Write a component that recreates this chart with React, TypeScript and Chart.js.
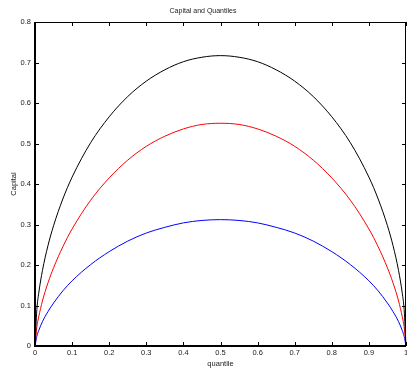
import React, { useEffect, useRef } from 'react';
import { Chart, registerables } from 'chart.js';

Chart.register(...registerables);

const chartTitle = 'Capital and Quantiles';
const xAxisTitle = 'quantile';
const yAxisTitle = 'Capital';

const quantiles = [
  0, 0.005, 0.01, 0.02, 0.035, 0.05, 0.075, 0.1, 0.15, 0.2, 0.25, 0.3, 0.35, 0.4, 0.45, 0.5,
  0.55, 0.6, 0.65, 0.7, 0.75, 0.8, 0.85, 0.9, 0.925, 0.95, 0.965, 0.98, 0.99, 0.995, 1,
];

const capitalBlack = [
  0, 0.09, 0.13, 0.186, 0.248, 0.297, 0.363, 0.417, 0.502, 0.566, 0.616, 0.654, 0.682, 0.702, 0.713, 0.717,
  0.713, 0.702, 0.682, 0.654, 0.616, 0.566, 0.502, 0.417, 0.363, 0.297, 0.248, 0.186, 0.13, 0.09, 0,
];

const capitalRed = [
  0, 0.047, 0.072, 0.111, 0.156, 0.193, 0.245, 0.289, 0.36, 0.415, 0.459, 0.493, 0.518, 0.536, 0.547, 0.55,
  0.547, 0.536, 0.518, 0.493, 0.459, 0.415, 0.36, 0.289, 0.245, 0.193, 0.156, 0.111, 0.072, 0.047, 0,
];

const capitalBlue = [
  0, 0.024, 0.038, 0.06, 0.085, 0.106, 0.136, 0.161, 0.201, 0.233, 0.259, 0.279, 0.293, 0.304, 0.31, 0.312,
  0.31, 0.304, 0.293, 0.279, 0.259, 0.233, 0.201, 0.161, 0.136, 0.106, 0.085, 0.06, 0.038, 0.024, 0,
];

const xTicks = [0, 0.1, 0.2, 0.3, 0.4, 0.5, 0.6, 0.7, 0.8, 0.9, 1];
const yTicks = [0, 0.1, 0.2, 0.3, 0.4, 0.5, 0.6, 0.7, 0.8];

const FONT = '"Liberation Sans", Arial, sans-serif';
const TEXT_COLOR = '#222';

const fmt = (v: number) => String(Number(Number(v).toFixed(1)));

const boxPlugin = {
  id: 'matlabBox',
  afterDatasetsDraw(chart: any) {
    const { ctx, chartArea, scales } = chart;
    const { left, right, top, bottom } = chartArea;
    const x = scales.x;
    const y = scales.y;
    ctx.save();
    ctx.strokeStyle = '#000';
    ctx.lineWidth = 1;
    const line = (x1: number, y1: number, x2: number, y2: number) => {
      ctx.beginPath();
      ctx.moveTo(x1, y1);
      ctx.lineTo(x2, y2);
      ctx.stroke();
    };
    const tl = 4;
    xTicks.forEach((v) => {
      const px = Math.round(x.getPixelForValue(v)) + 0.5;
      line(px, bottom, px, bottom - tl);
      line(px, top, px, top + tl);
    });
    yTicks.forEach((v) => {
      const py = Math.round(y.getPixelForValue(v)) + 0.5;
      line(left, py, left + tl, py);
      line(right, py, right - tl, py);
    });
    line(left, Math.round(top) + 0.5, right, Math.round(top) + 0.5);
    line(Math.round(right) - 0.5, top, Math.round(right) - 0.5, bottom);
    ctx.lineWidth = 2;
    line(left - 1, Math.round(bottom), right, Math.round(bottom));
    line(Math.round(left), top, Math.round(left), bottom + 1);
    ctx.restore();
  },
};

export default function App() {
  const canvasRef = useRef<HTMLCanvasElement | null>(null);

  useEffect(() => {
    const canvas = canvasRef.current;
    if (!canvas) return;
    const mk = (vals: number[]) => quantiles.map((q, i) => ({ x: q, y: vals[i] }));
    const ds = (label: string, vals: number[], color: string) =>
      ({
        label,
        data: mk(vals),
        borderColor: color,
        borderWidth: 1,
        pointRadius: 0,
        cubicInterpolationMode: 'monotone',
        fill: false,
        clip: false,
      } as any);
    const chart = new Chart(canvas, {
      type: 'line',
      data: {
        datasets: [
          ds('black', capitalBlack, '#000000'),
          ds('red', capitalRed, '#ff0000'),
          ds('blue', capitalBlue, '#0000ff'),
        ],
      },
      options: {
        responsive: false,
        animation: false,
        devicePixelRatio: 1,
        layout: { padding: { left: 0, right: 1, top: 0, bottom: 0 } },
        plugins: {
          legend: { display: false },
          tooltip: { enabled: false },
          title: {
            display: true,
            text: chartTitle,
            color: TEXT_COLOR,
            font: { family: FONT, size: 7, weight: 'normal' as any },
            padding: { top: 7, bottom: 6.6 },
          },
        },
        scales: {
          x: {
            type: 'linear',
            min: 0,
            max: 1,
            grid: { display: false, drawTicks: false },
            border: { display: false },
            ticks: {
              stepSize: 0.1,
              autoSkip: false,
              maxRotation: 0,
              padding: 2,
              color: TEXT_COLOR,
              font: { family: FONT, size: 7.5 },
              callback: (v: any) => fmt(v),
            },
            title: {
              display: true,
              text: xAxisTitle,
              color: TEXT_COLOR,
              font: { family: FONT, size: 7.5 },
              padding: { top: 0, bottom: 1.5 },
            },
            afterFit: (s: any) => {
              s.height = 24;
              s.paddingLeft = 0;
              s.paddingRight = 0;
            },
          },
          y: {
            type: 'linear',
            min: 0,
            max: 0.8,
            grid: { display: false, drawTicks: false },
            border: { display: false },
            ticks: {
              stepSize: 0.1,
              autoSkip: false,
              padding: 4,
              color: TEXT_COLOR,
              font: { family: FONT, size: 7.5 },
              callback: (v: any) => fmt(v),
            },
            title: {
              display: true,
              text: yAxisTitle,
              color: TEXT_COLOR,
              font: { family: FONT, size: 7.5 },
              padding: { top: 9.5, bottom: 0 },
            },
            afterFit: (s: any) => {
              s.width = 35;
              s.paddingTop = 0;
              s.paddingBottom = 0;
            },
          },
        },
      },
      plugins: [boxPlugin],
    });
    return () => chart.destroy();
  }, []);

  return (
    <div style={{ position: 'fixed', left: 0, top: 0, width: 407, height: 370, background: '#fff' }}>
      <canvas ref={canvasRef} width={407} height={370} style={{ display: 'block', width: 407, height: 370 }} />
    </div>
  );
}
